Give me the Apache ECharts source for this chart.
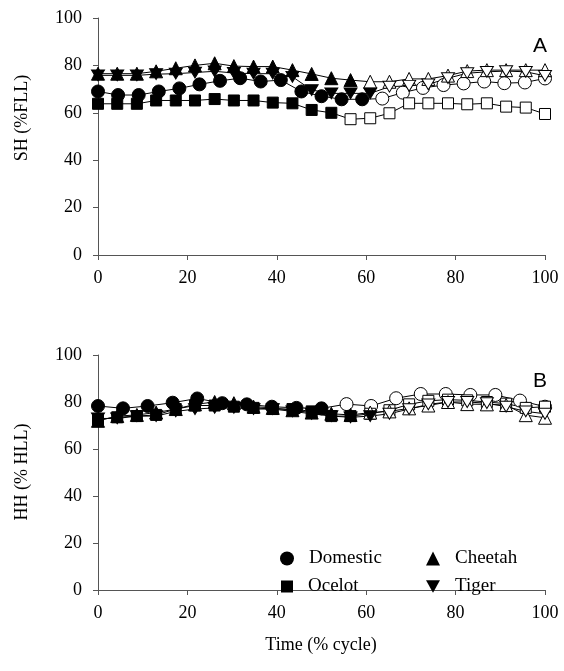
<!DOCTYPE html>
<html>
<head>
<meta charset="utf-8">
<script src="https://cdn.jsdelivr.net/npm/echarts@6/dist/echarts.min.js"></script>
<style>
  html, body { margin: 0; padding: 0; background: #fff; }
  #chart { width: 564px; height: 671px; }
</style>
</head>
<body>
<div id="chart"></div>
<script>
// x positions (% cycle) of the samples
const xStep24 = [0, 4.3, 8.7, 13, 17.4, 21.7, 26.1, 30.4, 34.8, 39.1, 43.5, 47.8, 52.2, 56.5, 60.9, 65.2, 69.6, 73.9, 78.3, 82.6, 87, 91.3, 95.7, 100];
const xDomA = [0, 4.5, 9.1, 13.6, 18.2, 22.7, 27.3, 31.8, 36.4, 40.9, 45.5, 50, 54.5, 59.1, 63.6, 68.2, 72.7, 77.3, 81.8, 86.4, 90.9, 95.5, 100];
const xDomB = [0, 5.6, 11.1, 16.7, 22.2, 27.8, 33.3, 38.9, 44.4, 50, 55.6, 61.1, 66.7, 72.2, 77.8, 83.3, 88.9, 94.4, 100];

// panel A: SH (%FLL)
const domesticA = [69, 67.5, 67.5, 69, 70.3, 72, 73.5, 74.6, 73.2, 73.8, 69, 67, 65.7, 65.7, 66, 68.5, 70.5, 71.7, 72.4, 73.2, 72.5, 72.8, 74.5];
const ocelotA   = [63.8, 63.8, 63.8, 65.2, 65.2, 65.2, 65.8, 65.2, 65.2, 64.3, 64, 61.2, 60, 57.3, 57.7, 59.8, 64, 64, 64, 63.6, 64, 62.6, 62.2, 59.5];
const cheetahA  = [76.5, 76.5, 76.5, 77.5, 78.8, 80, 80.9, 79.7, 79.5, 79.5, 78, 76.4, 74.6, 73.8, 73.1, 73.1, 74.3, 74.3, 75.7, 77.6, 78, 78, 78, 78];
const tigerA    = [75.8, 75.8, 75.8, 76.3, 76.5, 77, 77.5, 76.8, 76.5, 76.5, 75.2, 69.6, 68.2, 68.2, 68.2, 71, 71.4, 72, 74.6, 76.7, 77.3, 77.6, 77.3, 75.6];

// panel B: HH (% HLL)
const domesticB = [78.3, 77.3, 78.3, 79.7, 81.5, 79.5, 79, 78, 77.5, 77.3, 79.1, 78.3, 81.6, 83.4, 83.4, 83, 83, 80.6, 78];
const ocelotB   = [72.5, 73.5, 74, 74.5, 77, 78.5, 78.5, 78, 77.5, 77, 77, 76, 74, 74, 75, 76.5, 79, 80.5, 81, 80.7, 80, 79.3, 77.5, 78];
const cheetahB  = [72, 74, 74.5, 75.5, 77, 79, 80, 79.5, 78, 77.5, 76.5, 75.5, 75, 74.5, 75.5, 76, 77.3, 78.5, 80, 79.1, 79, 78.7, 74.4, 73.3];
const tigerB    = [73, 73, 74, 74, 76, 77, 77.5, 77.5, 77, 77, 76, 75, 74, 73.5, 74, 75, 77, 79, 80, 80, 79.5, 78, 76, 75];

// last filled (stance) sample, after that markers are open
const stanceEndA = { Domestic: 59.1, Ocelot: 52.2, Cheetah: 56.5, Tiger: 60.9 };
const stanceEndB = { Domestic: 50, Ocelot: 56.5, Cheetah: 56.5, Tiger: 60.9 };

const SERIF = '"Liberation Serif", "Times New Roman", serif';
const DOWN_TRI = 'path://M0,0 L10,0 L5,9 Z';
const symbols = {
    Domestic: { symbol: 'circle', size: 13, legend: 14 },
    Ocelot: { symbol: 'rect', size: 11, legend: 12 },
    Cheetah: { symbol: 'triangle', size: 13, legend: 14 },
    Tiger: { symbol: DOWN_TRI, size: [13, 12], legend: 14 }
};

function points(xs, ys, stanceEnd) {
    return ys.map((y, i) => {
        const item = { value: [xs[i], y] };
        if (xs[i] > stanceEnd) item.itemStyle = { color: '#fff' };
        return item;
    });
}

function makeSeries(name, xs, ys, stanceEnd, gridIdx) {
    return {
        name: name,
        type: 'line',
        xAxisIndex: gridIdx,
        yAxisIndex: gridIdx,
        symbol: symbols[name].symbol,
        symbolSize: symbols[name].size,
        symbolKeepAspect: true,
        showAllSymbol: true,
        lineStyle: { color: '#000', width: 1 },
        itemStyle: { color: '#000', borderColor: '#000', borderWidth: 1 },
        emphasis: { disabled: true },
        data: points(xs, ys, stanceEnd)
    };
}

function xAxis(gridIdx) {
    return {
        type: 'value', gridIndex: gridIdx, min: 0, max: 100, interval: 20,
        axisLine: { lineStyle: { color: '#555', width: 1 } },
        axisTick: { inside: false, length: 5, lineStyle: { color: '#555' } },
        axisLabel: { color: '#000', fontFamily: SERIF, fontSize: 18, margin: 14 },
        splitLine: { show: false }
    };
}

function yAxis(gridIdx) {
    return {
        type: 'value', gridIndex: gridIdx, min: 0, max: 100, interval: 20,
        axisLine: { show: true, lineStyle: { color: '#555', width: 1 } },
        axisTick: { show: true, inside: false, length: 5, lineStyle: { color: '#555' } },
        axisLabel: { color: '#000', fontFamily: SERIF, fontSize: 18, margin: 16 },
        splitLine: { show: false }
    };
}

function legendAt(name, left, top) {
    const s = symbols[name];
    return {
        data: [{ name: name, icon: s.symbol }],
        left: left, top: top, selectedMode: false,
        itemWidth: s.legend, itemHeight: s.legend, itemGap: 0,
        itemStyle: { color: '#000', borderWidth: 0 },
        textStyle: { color: '#000', fontFamily: SERIF, fontSize: 19, padding: [0, 0, 0, 10] }
    };
}

const chart = echarts.init(document.getElementById('chart'));
chart.setOption({
    animation: false,
    backgroundColor: '#fff',
    grid: [
        { left: 98, top: 18, width: 447, height: 237 },
        { left: 98, top: 355, width: 447, height: 235 }
    ],
    xAxis: [xAxis(0), xAxis(1)],
    yAxis: [yAxis(0), yAxis(1)],
    legend: [
        legendAt('Domestic', 275, 544),
        legendAt('Cheetah', 421, 544),
        legendAt('Ocelot', 276, 572),
        legendAt('Tiger', 421, 572)
    ],
    graphic: [
        { type: 'text', x: 22, y: 118, rotation: Math.PI / 2,
          style: { text: 'SH (%FLL)', fill: '#000', font: '18px ' + SERIF, align: 'center', verticalAlign: 'middle' } },
        { type: 'text', x: 22, y: 472, rotation: Math.PI / 2,
          style: { text: 'HH (% HLL)', fill: '#000', font: '18px ' + SERIF, align: 'center', verticalAlign: 'middle' } },
        { type: 'text', x: 321, y: 645,
          style: { text: 'Time (% cycle)', fill: '#000', font: '18px ' + SERIF, align: 'center', verticalAlign: 'middle' } },
        { type: 'text', x: 540, y: 46,
          style: { text: 'A', fill: '#000', font: '21px "Liberation Sans", Arial, sans-serif', align: 'center', verticalAlign: 'middle' } },
        { type: 'text', x: 540, y: 381,
          style: { text: 'B', fill: '#000', font: '21px "Liberation Sans", Arial, sans-serif', align: 'center', verticalAlign: 'middle' } }
    ],
    series: [
        makeSeries('Domestic', xDomA, domesticA, stanceEndA.Domestic, 0),
        makeSeries('Ocelot', xStep24, ocelotA, stanceEndA.Ocelot, 0),
        makeSeries('Cheetah', xStep24, cheetahA, stanceEndA.Cheetah, 0),
        makeSeries('Tiger', xStep24, tigerA, stanceEndA.Tiger, 0),
        makeSeries('Domestic', xDomB, domesticB, stanceEndB.Domestic, 1),
        makeSeries('Ocelot', xStep24, ocelotB, stanceEndB.Ocelot, 1),
        makeSeries('Cheetah', xStep24, cheetahB, stanceEndB.Cheetah, 1),
        makeSeries('Tiger', xStep24, tigerB, stanceEndB.Tiger, 1)
    ]
});
</script>
</body>
</html>
